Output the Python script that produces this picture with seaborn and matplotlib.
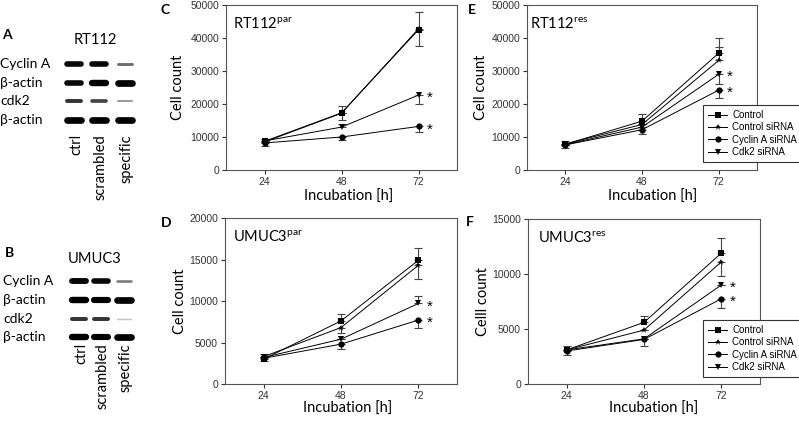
import pandas as pd
import matplotlib as mpl
import matplotlib.pyplot as plt
import seaborn as sns

hours = [24, 48, 72]
treatments = ["Control", "Control siRNA", "Cyclin A siRNA", "Cdk2 siRNA"]
treat_markers = {"Control": "s", "Control siRNA": "*", "Cyclin A siRNA": "o", "Cdk2 siRNA": "v"}
star_series = ["Cyclin A siRNA", "Cdk2 siRNA"]

# mean cell counts, rows in the order of treatments
rt112_par = [[8700, 17300, 42500], [8500, 17200, 42800], [8200, 10000, 13200], [8800, 13000, 22700]]
rt112_par_up = [[800, 2000, 5300], [0, 0, 0], [0, 0, 0], [0, 800, 0]]
rt112_par_down = [[0, 0, 0], [0, 2000, 5300], [1000, 1000, 1800], [0, 0, 2700]]

rt112_res = [[7800, 14800, 35400], [7900, 13800, 33200], [7600, 12200, 24200], [7700, 13000, 29000]]
rt112_res_up = [[1000, 2200, 4600], [0, 0, 4000], [0, 0, 0], [0, 0, 0]]
rt112_res_down = [[0, 0, 0], [0, 0, 0], [800, 1200, 2500], [0, 0, 3000]]

umuc3_par = [[3000, 7600, 14900], [3300, 6800, 14300], [3100, 4800, 7700], [3200, 5400, 9700]]
umuc3_par_up = [[600, 800, 1500], [0, 0, 0], [0, 0, 0], [0, 0, 900]]
umuc3_par_down = [[0, 0, 0], [0, 700, 1600], [300, 550, 950], [0, 0, 0]]

umuc3_res = [[3100, 5600, 11900], [3100, 4900, 11100], [3000, 4050, 7750], [3100, 4100, 9000]]
umuc3_res_up = [[350, 600, 1400], [0, 0, 0], [0, 0, 0], [0, 0, 0]]
umuc3_res_down = [[0, 0, 0], [0, 0, 1300], [350, 600, 800], [0, 0, 0]]

# western blots: band strength 0..1 per row (rows) and lane (cols)
blot_rows = ["Cyclin A", "β-actin", "cdk2", "β-actin"]
blot_lanes = ["ctrl", "scrambled", "specific"]
rt112_bands = [[0.8, 0.8, 0.3], [0.8, 0.95, 1.0], [0.5, 0.45, 0.15], [1.0, 1.0, 1.0]]
umuc3_bands = [[0.85, 0.8, 0.25], [0.95, 0.9, 1.0], [0.5, 0.5, 0.05], [0.95, 0.9, 1.0]]

calibri = ["Lato", "DejaVu Sans"]
mpl.rcParams["font.family"] = ["Liberation Sans", "DejaVu Sans"]
mpl.rcParams["mathtext.fontset"] = "custom"
mpl.rcParams["mathtext.rm"] = "Lato"
mpl.rcParams["axes.edgecolor"] = "#555555"
mpl.rcParams["axes.linewidth"] = 0.8
mpl.rcParams["xtick.color"] = "#333333"
mpl.rcParams["ytick.color"] = "#333333"

fig = plt.figure(figsize=(7.99, 4.23), dpi=100)

# overlay in pixel units for the blots and panel letters
bg = fig.add_axes([0, 0, 1, 1])
bg.set_xlim(0, 799)
bg.set_ylim(423, 0)
bg.axis("off")


def draw_blot(bands, lane_x, row_y, row_label_x, title, title_y, lane_top):
    bg.text(95, title_y, title, family=calibri, fontsize=10.5, ha="center", va="center")
    for r, name in enumerate(blot_rows):
        bg.text(row_label_x, row_y[r], name, family=calibri, fontsize=10, ha="left", va="center")
        for l in range(len(blot_lanes)):
            s = bands[r][l]
            grey = str(round(0.85 * (1 - s) ** 2, 2))
            bg.plot([lane_x[l] - 7, lane_x[l] + 7], [row_y[r], row_y[r]], color=grey,
                    lw=(1.2 + 5.5 * s) * 0.72, solid_capstyle="round")
    for l, lane in enumerate(blot_lanes):
        bg.text(lane_x[l] + 2, lane_top, lane, family=calibri, fontsize=10.5, rotation=90,
                ha="center", va="top")


draw_blot(rt112_bands, [74, 99, 125], [64, 83, 101, 120], 0, "RT112", 40, 134)
draw_blot(umuc3_bands, [79, 101, 124], [281, 300, 319, 337], 3, "UMUC3", 259, 343)

for letter, x, y in [("A", 7, 35), ("B", 10, 253), ("C", 165, 10), ("D", 166, 223),
                     ("E", 472, 10), ("F", 470, 222)]:
    bg.text(x, y, letter, family=calibri, fontsize=10, fontweight="bold", ha="center", va="center")


def growth_panel(rect, means, up, down, cell, sup, ymax, ystep, ylabel, ylab_x, xlab_x,
                 xlab_y, title_x, legend_pos):
    ax = fig.add_axes(rect)
    rows = []
    for t, name in enumerate(treatments):
        for h, hr in enumerate(hours):
            rows.append({"Incubation": hr, "Count": means[t][h], "Treatment": name})
    df = pd.DataFrame(rows)
    for t in range(len(treatments)):
        ax.errorbar(hours, means[t], yerr=[down[t], up[t]], fmt="none", ecolor="#444444",
                    elinewidth=0.8, capsize=3, capthick=0.8, zorder=1)
    sns.lineplot(data=df, x="Incubation", y="Count", style="Treatment", style_order=treatments,
                 markers=treat_markers, dashes=False, color="black", linewidth=0.7,
                 markersize=4.5, markeredgewidth=0, ax=ax, legend=legend_pos is not None, zorder=3)
    for name in star_series:
        val = means[treatments.index(name)][2]
        ax.annotate("*", (75.5, val), xytext=(0, -5), textcoords="offset points",
                    fontsize=11, ha="center", va="baseline")
    ax.set_xlim(12, 84)
    ax.set_ylim(0, ymax)
    ax.set_xticks(hours)
    ax.set_yticks(range(0, ymax + 1, ystep))
    ax.tick_params(direction="out", length=3, width=0.8, labelsize=7.5, pad=2)
    ax.set_ylabel(ylabel, family=calibri, fontsize=10.5)
    ax.set_xlabel("Incubation [h]", family=calibri, fontsize=10.5)
    ax.yaxis.set_label_coords(ylab_x, 0.5)
    ax.xaxis.set_label_coords(xlab_x, xlab_y)
    ax.text(title_x, 0.935, r"$\mathrm{" + cell + r"}^{\mathrm{" + sup + r"}}$", transform=ax.transAxes,
            fontsize=10.5, ha="left", va="top")
    if legend_pos is not None:
        sns.move_legend(ax, "lower left", bbox_to_anchor=legend_pos, title=None, frameon=True,
                        fancybox=False, edgecolor="#333333", framealpha=1, fontsize=7,
                        handlelength=2.0, handletextpad=0.5, labelspacing=0.25, borderpad=0.5,
                        borderaxespad=0)
        ax.get_legend().get_frame().set_linewidth(0.8)
    return ax


growth_panel([226 / 799, 253 / 423, 231 / 799, 165 / 423], rt112_par, rt112_par_up, rt112_par_down,
             "RT112", "par", 50000, 10000, "Cell count", -0.177, 0.53, -0.12, 0.03, None)
growth_panel([527 / 799, 253 / 423, 230 / 799, 165 / 423], rt112_res, rt112_res_up, rt112_res_down,
             "RT112", "res", 50000, 10000, "Cell count", -0.17, 0.548, -0.12, 0.015, (0.765, 0.048))
growth_panel([225 / 799, 39 / 423, 232 / 799, 166 / 423], umuc3_par, umuc3_par_up, umuc3_par_down,
             "UMUC3", "par", 20000, 5000, "Cell count", -0.164, 0.53, -0.108, 0.035, None)
growth_panel([528 / 799, 39 / 423, 232 / 799, 165 / 423], umuc3_res, umuc3_res_up, umuc3_res_down,
             "UMUC3", "res", 15000, 5000, "Celll count", -0.164, 0.54, -0.108, 0.043, (0.754, 0.042))

fig.savefig("out.png", dpi=100)
